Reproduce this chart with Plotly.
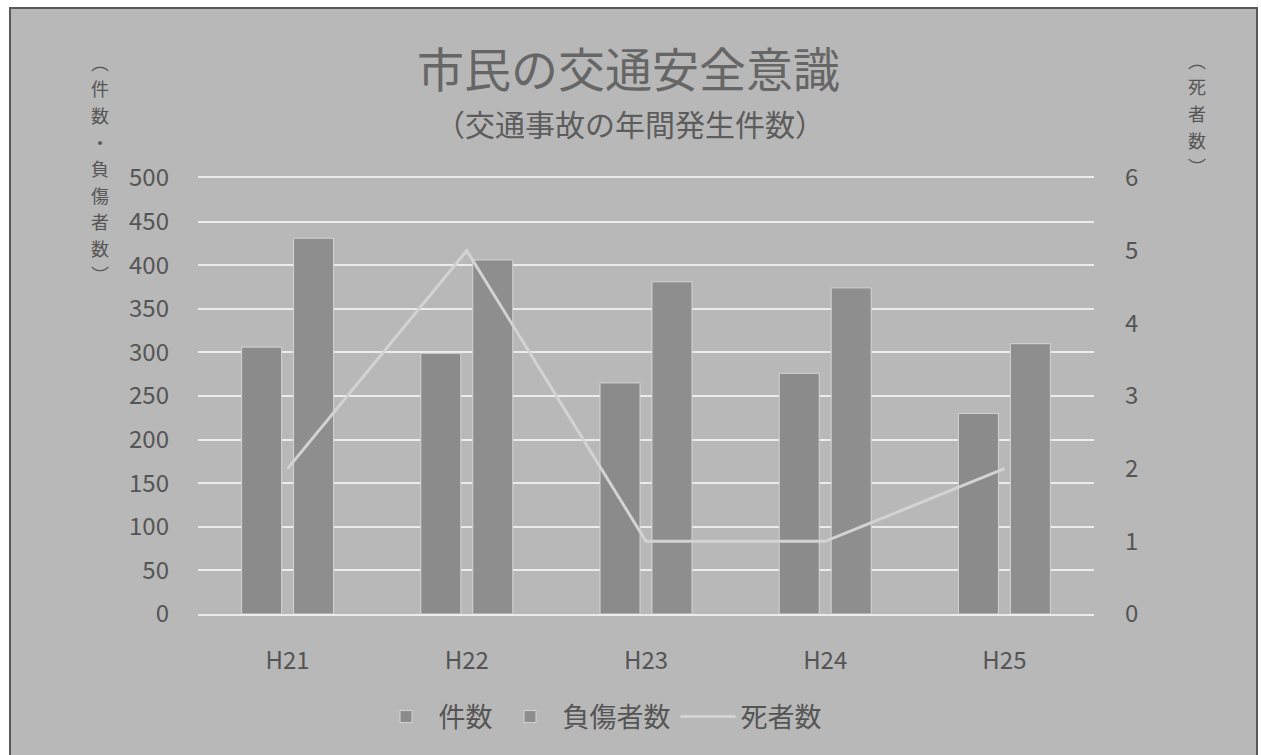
import plotly.graph_objects as go

# ---- data -------------------------------------------------------------
years = ["H21", "H22", "H23", "H24", "H25"]
cases = [306, 299, 265, 276, 230]        # 件数
injured = [431, 406, 381, 374, 310]      # 負傷者数
deaths = [2, 5, 1, 1, 2]                 # 死者数

left_ticks = [0, 50, 100, 150, 200, 250, 300, 350, 400, 450, 500]
right_ticks = [0, 1, 2, 3, 4, 5, 6]

series_names = ["件数", "負傷者数", "死者数"]
title_text = "市民の交通安全意識"
subtitle_text = "（交通事故の年間発生件数）"
left_axis_chars = ["︵", "件", "数", "・", "負", "傷", "者", "数", "︶"]
right_axis_chars = ["︵", "死", "者", "数", "︶"]

# ---- layout helpers (pixel -> paper coordinates) ----------------------
W, H = 1261, 755
PL, PR, PT, PB = 198, 1094, 178, 614


def px(x):
    return (x - PL) / (PR - PL)


def py(y):
    return (PB - y) / (PB - PT)


FONT = "Noto Sans CJK JP"
TEXT = "#555555"
BG = "#b8b8b8"
GRID = "#ececec"

fig = go.Figure()
fig.add_bar(
    x=years, y=cases, name=series_names[0],
    marker=dict(color="#8b8b8b", line=dict(color="#d4d4d4", width=1)),
)
fig.add_bar(
    x=years, y=injured, name=series_names[1],
    marker=dict(color="#8e8e8e", line=dict(color="#d4d4d4", width=1)),
)
fig.add_scatter(
    x=years, y=deaths, name=series_names[2], yaxis="y2", mode="lines",
    line=dict(color="#d3d3d3", width=3),
)

annotations = [
    dict(text=title_text, x=px(628), y=py(66), xref="paper", yref="paper",
         showarrow=False, xanchor="center", yanchor="middle",
         font=dict(family=FONT, size=47, color="#666666")),
    dict(text=subtitle_text, x=px(630), y=py(123), xref="paper", yref="paper",
         showarrow=False, xanchor="center", yanchor="middle",
         font=dict(family=FONT, size=30, color="#5c5c5c")),
]

# vertical axis titles, stacked one character at a time
STEP = 26.5
for i, ch in enumerate(left_axis_chars):
    annotations.append(dict(text=ch, x=px(100), y=py(62 + i * STEP), xref="paper",
                            yref="paper", showarrow=False, xanchor="center",
                            yanchor="middle", borderpad=0,
                            font=dict(family=FONT, size=18, color=TEXT)))
for i, ch in enumerate(right_axis_chars):
    annotations.append(dict(text=ch, x=px(1197), y=py(60 + i * STEP), xref="paper",
                            yref="paper", showarrow=False, xanchor="center",
                            yanchor="middle", borderpad=0,
                            font=dict(family=FONT, size=18, color=TEXT)))

fig.update_layout(
    width=W, height=H, autosize=False,
    margin=dict(l=PL, r=W - PR, t=PT, b=H - PB, pad=0),
    paper_bgcolor="white",
    plot_bgcolor="rgba(0,0,0,0)",
    font=dict(family=FONT, color=TEXT),
    barmode="group",
    bargap=0.42,
    bargroupgap=0.23,
    showlegend=True,
    legend=dict(
        orientation="h", x=px(600), xanchor="center", y=py(717), yanchor="middle",
        font=dict(family=FONT, size=27, color=TEXT),
        bgcolor="rgba(0,0,0,0)", traceorder="normal", itemwidth=55,
    ),
    xaxis=dict(
        showgrid=False, zeroline=False,
        showline=True, mirror=True, linecolor=GRID, linewidth=2,
        ticks="", tickfont=dict(family=FONT, size=24, color=TEXT),
        ticklabelstandoff=24,
    ),
    yaxis=dict(
        range=[0, 500], tickvals=left_ticks, ticktext=[str(v) for v in left_ticks],
        showgrid=True, gridcolor=GRID, gridwidth=2,
        zeroline=False, showline=False, ticks="",
        tickfont=dict(family=FONT, size=24, color=TEXT),
        ticklabelstandoff=28,
    ),
    yaxis2=dict(
        range=[0, 6], tickvals=right_ticks, ticktext=[str(v) for v in right_ticks],
        overlaying="y", side="right", showgrid=False, zeroline=False,
        showline=False, ticks="",
        tickfont=dict(family=FONT, size=24, color=TEXT),
        ticklabelstandoff=30,
    ),
    shapes=[
        dict(type="rect", xref="paper", yref="paper",
             x0=px(10), x1=px(1257), y0=py(770), y1=py(8),
             fillcolor=BG, line=dict(color="#5a5a5a", width=2), layer="below"),
    ],
    annotations=annotations,
)

fig.write_html("out.html")
